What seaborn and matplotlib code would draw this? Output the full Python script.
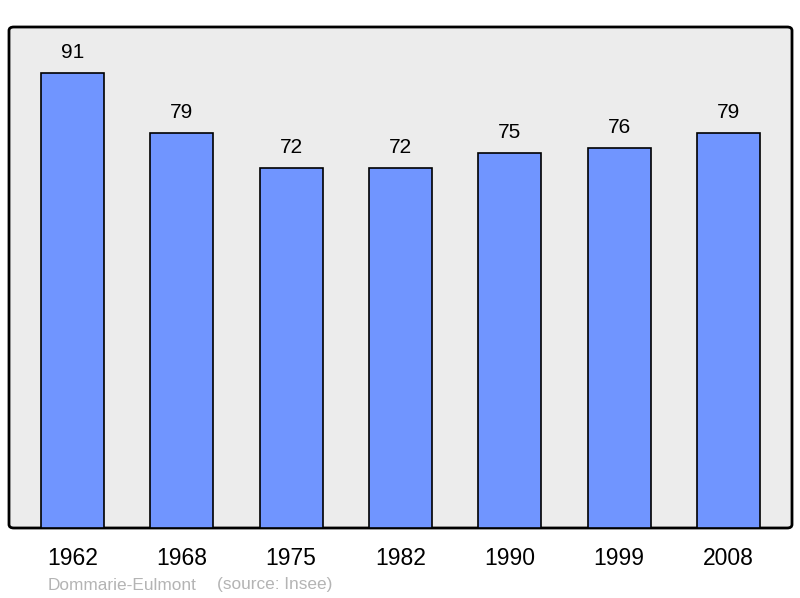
import matplotlib
matplotlib.use("Agg")
import matplotlib.pyplot as plt
import seaborn as sns
import pandas as pd
from matplotlib.patches import FancyBboxPatch

# population data
years = ["1962", "1968", "1975", "1982", "1990", "1999", "2008"]
population = [91, 79, 72, 72, 75, 76, 79]

df = pd.DataFrame({"year": years, "pop": population})

sns.set_theme(style="white")
plt.rcParams["font.family"] = ["Liberation Sans", "DejaVu Sans"]
plt.rcParams["text.color"] = "black"
plt.rcParams["xtick.color"] = "black"

fig = plt.figure(figsize=(8, 5.98), dpi=100)
ax = fig.add_axes([9 / 800, 70 / 598, 783 / 800, 501 / 598])
ax.set_facecolor("none")

# rounded frame with grey background, drawn behind the axes
frame = FancyBboxPatch((9 / 800, 70 / 598), 783 / 800, 501 / 598,
                       boxstyle="round,pad=0,rounding_size=0.006",
                       transform=fig.transFigure, facecolor="#ececec",
                       edgecolor="black", linewidth=2, zorder=-1)
fig.patches.append(frame)

sns.barplot(data=df, x="year", y="pop", order=years, color="#7095ff",
            edgecolor="black", linewidth=1.2, width=0.575, saturation=1, ax=ax)

ax.bar_label(ax.containers[0], padding=8, fontsize=15, color="black")

ax.set_xlim(-0.58, 6.58)
ax.set_ylim(0, 100.2)
ax.set_xlabel("")
ax.set_ylabel("")
ax.set_yticks([])
ax.tick_params(axis="x", length=0, labelsize=16.5, pad=14, labelcolor="black")
for s in ax.spines.values():
    s.set_visible(False)

fig.text(48 / 800, 1 - 585 / 598, "Dommarie-Eulmont",
         color="#b4b4b4", fontsize=12.4, va="center", ha="left")
fig.text(217 / 800, 1 - 585 / 598, "(source: Insee)",
         color="#b4b4b4", fontsize=12.4, va="center", ha="left")

plt.savefig("out.png", dpi=100)
